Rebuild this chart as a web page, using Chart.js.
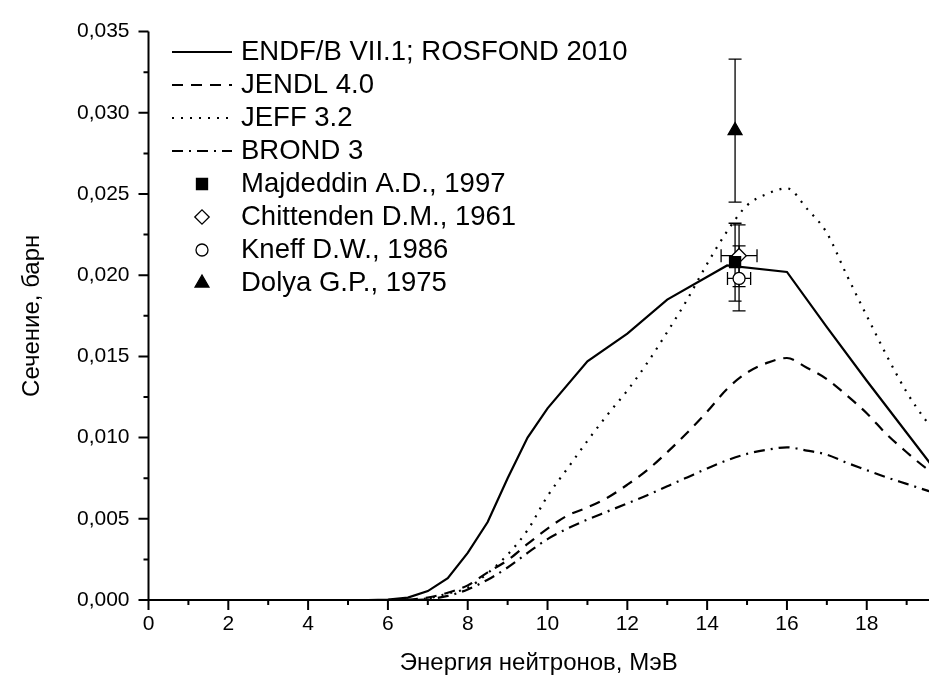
<!DOCTYPE html>
<html>
<head>
<meta charset="utf-8">
<script src="https://cdn.jsdelivr.net/npm/chart.js@4.4.1/dist/chart.umd.min.js"></script>
<style>
  html, body { margin: 0; padding: 0; background: #fff; }
  #wrap { width: 929px; height: 684px; }
</style>
</head>
<body>
<div id="wrap"><canvas id="xsChart" width="929" height="684"></canvas></div>
<script>
// Evaluated cross sections: neutron energy (MeV) and cross section (barn)
const endfEnergy = [5, 5.5, 6, 6.5, 7, 7.5, 8, 8.5, 9, 9.5, 10, 11, 12, 13, 14.5, 16, 17, 18, 19, 20];
const endfSigma = [0, 0, 0.00002, 0.00015, 0.00055, 0.00135, 0.0029, 0.0048, 0.0075, 0.0100, 0.0118,
    0.0147, 0.0164, 0.0185, 0.0206, 0.0202, 0.0168, 0.0135, 0.0103, 0.0071];

const evalEnergy = [6, 6.5, 7, 7.5, 8, 8.5, 9, 9.5, 10, 10.5, 11, 11.5, 12, 12.5, 13, 13.5, 14, 14.5,
    15, 15.5, 16, 16.5, 17, 17.5, 18, 18.5, 19, 19.5, 20];
const jendlSigma = [0, 0.00002, 0.00015, 0.00045, 0.0009, 0.0017, 0.00245, 0.00345, 0.0044, 0.0052,
    0.0057, 0.0063, 0.0071, 0.0080, 0.0091, 0.0103, 0.0116, 0.0130, 0.0140, 0.0146, 0.0149, 0.0143,
    0.0136, 0.0126, 0.0115, 0.0102, 0.0091, 0.0081, 0.0074];
const jeffSigma = [0, 0.00002, 0.0001, 0.0004, 0.00075, 0.00165, 0.0028, 0.0043, 0.0064, 0.0081,
    0.0098, 0.0114, 0.0129, 0.0146, 0.0165, 0.0185, 0.0207, 0.0227, 0.0243, 0.0250, 0.02535, 0.0241,
    0.0226, 0.0200, 0.0175, 0.01505, 0.0128, 0.0110, 0.0096];
const brondSigma = [0, 0, 0.00005, 0.00025, 0.00065, 0.00125, 0.0020, 0.0029, 0.00375, 0.0044,
    0.00495, 0.00545, 0.00595, 0.00645, 0.0070, 0.00755, 0.0081, 0.0086, 0.0090, 0.00925, 0.0094,
    0.0092, 0.00895, 0.00845, 0.0080, 0.00755, 0.00715, 0.00675, 0.0064];

// Experimental points with uncertainties
const majdeddinE = [14.7];
const majdeddinSigma = [0.0208];
const majdeddinErr = [0.0024];

const chittendenE = [14.8];
const chittendenSigma = [0.0212];
const chittendenErr = [0.0019];
const chittendenEErr = [0.45];

const kneffE = [14.8];
const kneffSigma = [0.0198];
const kneffErr = [0.0020];
const kneffEErr = [0.29];

const dolyaE = [14.7];
const dolyaSigma = [0.0289];
const dolyaErr = [0.0044];

// Axis ticks
const xTickValues = [0, 2, 4, 6, 8, 10, 12, 14, 16, 18];
const yTickValues = [0, 0.005, 0.010, 0.015, 0.020, 0.025, 0.030, 0.035];

const FONT = '"Liberation Sans", Arial, sans-serif';

function toPoints(xs, ys) {
    return xs.map((x, i) => ({ x: x, y: ys[i] }));
}

// error bars drawn under the markers
const errorBars = {
    id: 'errorBars',
    beforeDatasetsDraw(chart) {
        const ctx = chart.ctx;
        const xs = chart.scales.x;
        const ys = chart.scales.y;
        const cap = 6.5;
        ctx.save();
        ctx.strokeStyle = '#000';
        ctx.lineWidth = 1.3;
        chart.data.datasets.forEach(ds => {
            if (!ds.errY && !ds.errX) return;
            ds.data.forEach((p, j) => {
                const px = xs.getPixelForValue(p.x);
                const py = ys.getPixelForValue(p.y);
                ctx.beginPath();
                if (ds.errY) {
                    const top = ys.getPixelForValue(p.y + ds.errY[j]);
                    const bot = ys.getPixelForValue(p.y - ds.errY[j]);
                    ctx.moveTo(px, top); ctx.lineTo(px, bot);
                    ctx.moveTo(px - cap, top); ctx.lineTo(px + cap, top);
                    ctx.moveTo(px - cap, bot); ctx.lineTo(px + cap, bot);
                }
                if (ds.errX) {
                    const l = xs.getPixelForValue(p.x - ds.errX[j]);
                    const r = xs.getPixelForValue(p.x + ds.errX[j]);
                    ctx.moveTo(l, py); ctx.lineTo(r, py);
                    ctx.moveTo(l, py - cap); ctx.lineTo(l, py + cap);
                    ctx.moveTo(r, py - cap); ctx.lineTo(r, py + cap);
                }
                ctx.stroke();
            });
        });
        ctx.restore();
    }
};

// axis lines with major and minor outward ticks
const axesTicks = {
    id: 'axesTicks',
    afterDraw(chart) {
        const ctx = chart.ctx;
        const a = chart.chartArea;
        const xs = chart.scales.x;
        const ys = chart.scales.y;
        ctx.save();
        ctx.strokeStyle = '#000';
        ctx.lineWidth = 2;
        ctx.beginPath();
        ctx.moveTo(a.left - 1, a.bottom); ctx.lineTo(a.right, a.bottom);
        ctx.moveTo(a.left, a.bottom + 1); ctx.lineTo(a.left, a.top);
        for (let i = 0; i <= 19; i++) {
            const px = xs.getPixelForValue(i);
            const len = i % 2 === 0 ? 10 : 5;
            ctx.moveTo(px, a.bottom); ctx.lineTo(px, a.bottom + len);
        }
        for (let k = 0; k <= 14; k++) {
            const py = ys.getPixelForValue(k * 0.0025);
            const len = k % 2 === 0 ? 10 : 5;
            ctx.moveTo(a.left, py); ctx.lineTo(a.left - len, py);
        }
        ctx.stroke();
        ctx.restore();
    }
};

// legend in the upper left corner of the plot
const insideLegend = {
    id: 'insideLegend',
    afterDraw(chart) {
        const ctx = chart.ctx;
        const x0 = 172, x1 = 232, textX = 241, top = 52, step = 33;
        ctx.save();
        ctx.font = '27.5px ' + FONT;
        ctx.textBaseline = 'middle';
        ctx.textAlign = 'left';
        chart.data.datasets.forEach((ds, i) => {
            const y = top + i * step;
            if (ds.showLine === false) {
                ctx.fillStyle = ds.backgroundColor;
                ctx.strokeStyle = ds.borderColor;
                ctx.lineWidth = ds.pointBorderWidth;
                Chart.helpers.drawPoint(ctx, {
                    pointStyle: ds.pointStyle,
                    radius: ds.pointRadius,
                    borderWidth: ds.pointBorderWidth,
                    rotation: 0
                }, (x0 + x1) / 2, y);
            } else {
                ctx.strokeStyle = ds.borderColor;
                ctx.lineWidth = 2;
                ctx.setLineDash(ds.borderDash || []);
                ctx.beginPath();
                ctx.moveTo(x0, y); ctx.lineTo(x1, y);
                ctx.stroke();
                ctx.setLineDash([]);
            }
            ctx.fillStyle = '#000';
            ctx.fillText(ds.label, textX, y);
        });
        ctx.restore();
    }
};

function curve(label, xs, ys, dash, smooth) {
    return {
        label: label,
        data: toPoints(xs, ys),
        borderColor: '#000',
        backgroundColor: '#000',
        borderWidth: 2.2,
        borderDash: dash,
        pointRadius: 0,
        fill: false,
        tension: 0,
        cubicInterpolationMode: smooth ? 'monotone' : 'default'
    };
}

function points(label, xs, ys, style, radius, fillColor, errY, errX) {
    return {
        label: label,
        data: toPoints(xs, ys),
        showLine: false,
        pointStyle: style,
        pointRadius: radius,
        pointHoverRadius: radius,
        pointBorderWidth: 1.3,
        borderColor: '#000',
        backgroundColor: fillColor,
        pointBackgroundColor: fillColor,
        pointBorderColor: '#000',
        errY: errY,
        errX: errX
    };
}

const ctx = document.getElementById('xsChart').getContext('2d');

new Chart(ctx, {
    type: 'line',
    data: {
        datasets: [
            curve('ENDF/B VII.1; ROSFOND 2010', endfEnergy, endfSigma, [], false),
            curve('JENDL 4.0', evalEnergy, jendlSigma, [11, 8], true),
            curve('JEFF 3.2', evalEnergy, jeffSigma, [2, 7], true),
            curve('BROND 3', evalEnergy, brondSigma, [11, 6, 2, 6], true),
            points('Majdeddin A.D., 1997', majdeddinE, majdeddinSigma, 'rect', 7.8, '#000', majdeddinErr, null),
            points('Chittenden D.M., 1961', chittendenE, chittendenSigma, 'rectRot', 7.2, '#fff', chittendenErr, chittendenEErr),
            points('Kneff D.W., 1986', kneffE, kneffSigma, 'circle', 6, '#fff', kneffErr, kneffEErr),
            points('Dolya G.P., 1975', dolyaE, dolyaSigma, 'triangle', 8, '#000', dolyaErr, null)
        ]
    },
    options: {
        responsive: false,
        animation: false,
        events: [],
        layout: { autoPadding: false, padding: { top: 21.7, right: 0, left: 0, bottom: 0 } },
        plugins: {
            legend: { display: false },
            tooltip: { enabled: false }
        },
        scales: {
            x: {
                type: 'linear',
                min: 0,
                max: 19.56,
                afterFit: s => { s.height = 84; s.paddingRight = 0; s.paddingLeft = 0; },
                afterBuildTicks: s => { s.ticks = xTickValues.map(v => ({ value: v })); },
                grid: { display: false, drawTicks: false },
                border: { display: false },
                ticks: {
                    autoSkip: false,
                    maxRotation: 0,
                    includeBounds: false,
                    padding: 12,
                    color: '#000',
                    font: { family: FONT, size: 21 },
                    callback: v => String(v)
                },
                title: {
                    display: true,
                    text: 'Энергия нейтронов, МэВ',
                    color: '#000',
                    font: { family: FONT, size: 24, lineHeight: 1 },
                    padding: { top: 0, bottom: 9 }
                }
            },
            y: {
                type: 'linear',
                min: 0,
                max: 0.035,
                afterFit: s => { s.width = 148.5; },
                afterBuildTicks: s => { s.ticks = yTickValues.map(v => ({ value: v })); },
                grid: { display: false, drawTicks: false },
                border: { display: false },
                ticks: {
                    autoSkip: false,
                    padding: 19,
                    color: '#000',
                    font: { family: FONT, size: 21 },
                    callback: v => v.toFixed(3).replace('.', ',')
                },
                title: {
                    display: true,
                    text: 'Сечение, барн',
                    color: '#000',
                    font: { family: FONT, size: 24, lineHeight: 1 },
                    padding: { top: 20, bottom: 0 }
                }
            }
        }
    },
    plugins: [errorBars, axesTicks, insideLegend]
});
</script>
</body>
</html>
